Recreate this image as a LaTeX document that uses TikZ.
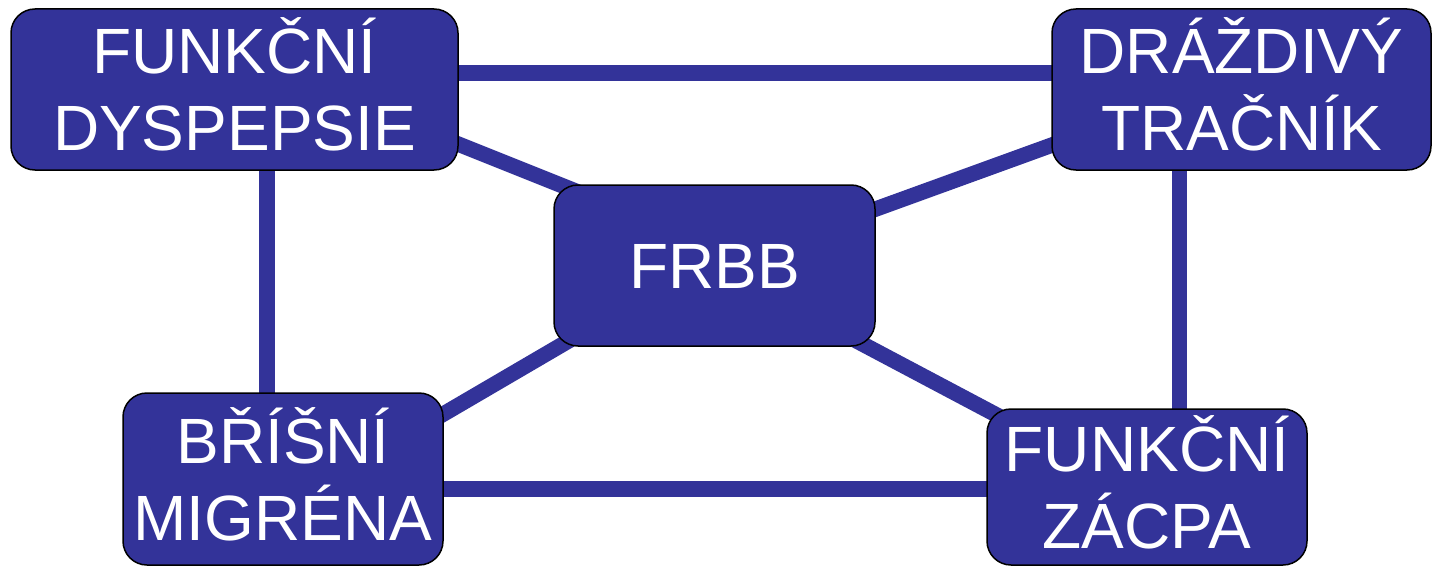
\documentclass[tikz,border=0pt]{standalone}
\usepackage{fontspec}
\setmainfont{Liberation Sans}
\usetikzlibrary{calc,backgrounds}
\definecolor{boxblue}{RGB}{51,51,153}
\newcommand{\capl}[1]{\raisebox{0pt}[0.716em][0pt]{#1}}
\tikzset{
  boxnode/.style={draw=black, line width=1.5pt, fill=boxblue, rounded corners=24pt,
    inner sep=0pt, text=white, align=center, font=\fontsize{64}{77}\selectfont},
  link/.style={draw=boxblue, line width=15.5pt}
}
\begin{document}
\begin{tikzpicture}[x=1pt,y=-1pt]
\useasboundingbox (0,0) rectangle (1435,567);
\node[boxnode, minimum width=447pt, minimum height=161pt] (fd) at (234.5,89.5) {\capl{FUNKČNÍ}\\\capl{DYSPEPSIE}};
\node[boxnode, minimum width=379pt, minimum height=161pt] (dt) at (1241.5,89.5) {\capl{DRÁŽDIVÝ}\\\capl{TRAČNÍK}};
\node[boxnode, minimum width=321pt, minimum height=161pt] (frbb) at (714.5,265.5) {\capl{FRBB}};
\node[boxnode, minimum width=320pt, minimum height=172pt] (bm) at (283,479) {\capl{BŘÍŠNÍ}\\\capl{MIGRÉNA}};
\node[boxnode, minimum width=320pt, minimum height=156pt] (fz) at (1147,487) {\capl{FUNKČNÍ}\\\capl{ZÁCPA}};
\begin{pgfonlayer}{background}
\draw[link] ($(fd.center)+(0,-16.5)$) -- ($(dt.center)+(0,-16.5)$);
\draw[link] ($(fd.center)+(32.5,0)$) -- ($(bm.center)+(-16,0)$);
\draw[link] ($(dt.center)+(-62,0)$) -- ($(fz.center)+(32.5,0)$);
\draw[link] ($(bm.center)+(0,10)$) -- ($(fz.center)+(0,2)$);
\draw[link] ($(fd.center)+(165.5,31.3)$) -- ($(frbb.center)+(-64.5,-44.7)$);
\draw[link] ($(frbb.center)+(85.5,-29)$) -- ($(dt.center)+(-141.5,38.1)$);
\draw[link] ($(bm.center)+(117,-39.6)$) -- ($(frbb.center)+(-94.5,45.3)$);
\draw[link] ($(frbb.center)+(105.5,56)$) -- ($(fz.center)+(-107,-49)$);
\end{pgfonlayer}
\end{tikzpicture}
\end{document}
